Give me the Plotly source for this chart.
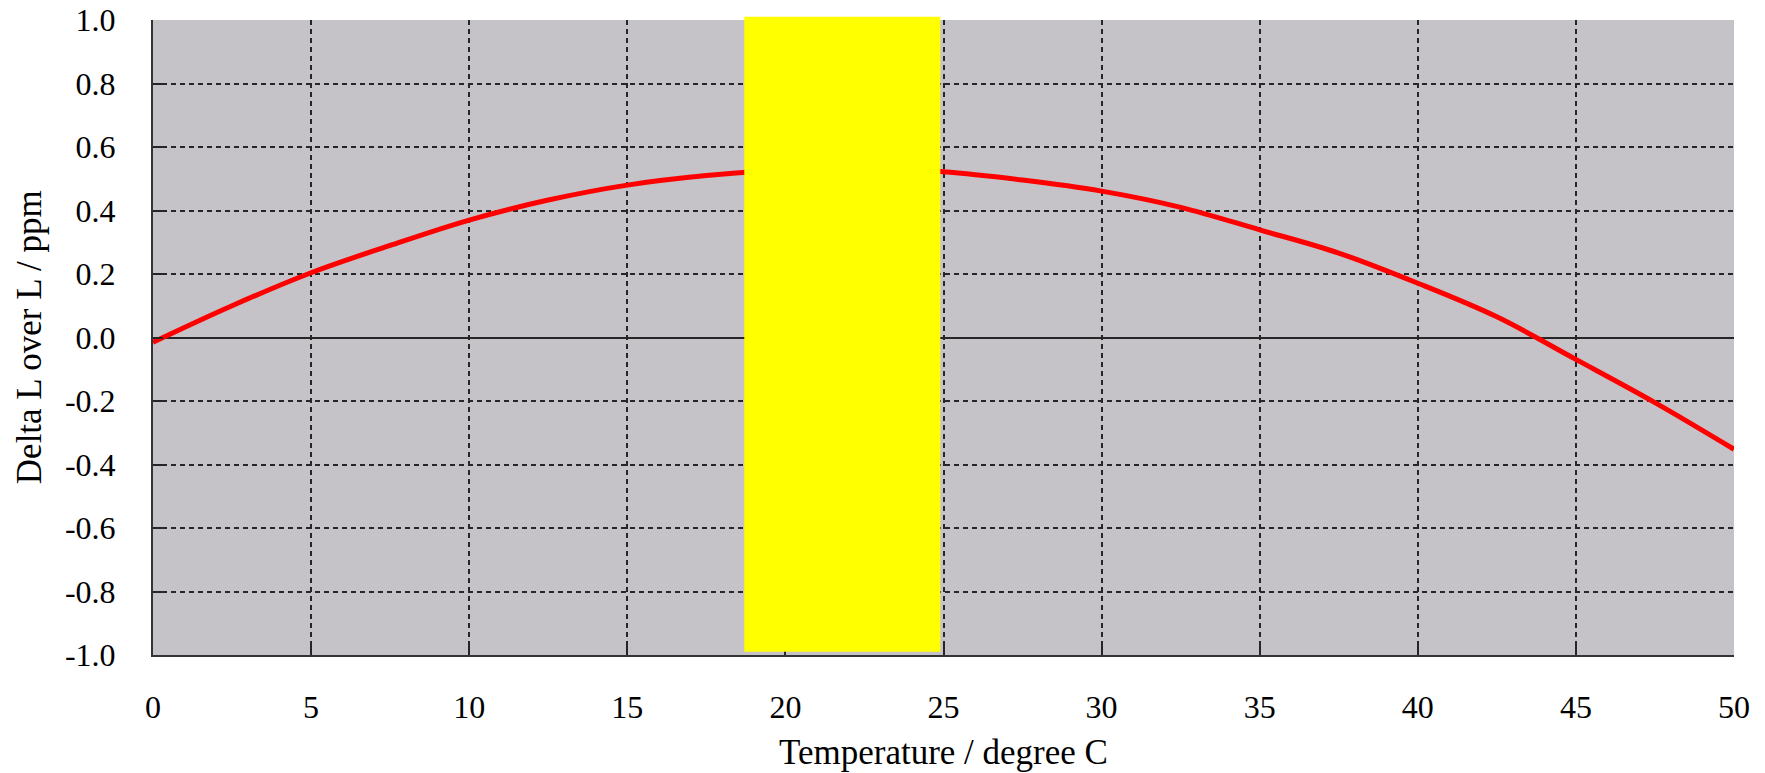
import plotly.graph_objects as go

# Data
temperature_c = [0, 2.5, 5, 7.5, 10, 12.5, 15, 17.5, 20, 22.5, 25, 27.5, 30, 32.5,
                 35, 37.5, 40, 42.5, 45, 47.5, 50]
delta_l_ppm = [-0.015, 0.10, 0.204, 0.29, 0.37, 0.433, 0.48, 0.51, 0.528, 0.532,
               0.522, 0.496, 0.461, 0.41, 0.339, 0.266, 0.171, 0.065, -0.069, -0.205, -0.352]

band_start = 18.7
band_end = 24.9

x_tick_vals = [0, 5, 10, 15, 20, 25, 30, 35, 40, 45, 50]
x_tick_text = ["0", "5", "10", "15", "20", "25", "30", "35", "40", "45", "50"]
y_tick_vals = [-1.0, -0.8, -0.6, -0.4, -0.2, 0.0, 0.2, 0.4, 0.6, 0.8, 1.0]
y_tick_text = ["-1.0", "-0.8", "-0.6", "-0.4", "-0.2", "0.0", "0.2", "0.4", "0.6", "0.8", "1.0"]

x_title = "Temperature / degree C"
y_title = "Delta L over L / ppm"

FONT = "Liberation Serif, Times New Roman, serif"

fig = go.Figure()
fig.add_trace(go.Scatter(
    x=temperature_c, y=delta_l_ppm, mode="lines",
    line=dict(color="#FF0000", width=5, shape="spline"),
    showlegend=False, hoverinfo="skip",
))

fig.add_shape(type="rect", xref="x", yref="paper",
              x0=band_start, x1=band_end, y0=0.005, y1=1.005,
              fillcolor="#FFFF00", line=dict(width=0), layer="above")

grid = dict(showgrid=True, gridcolor="#262626", gridwidth=1.8, griddash="5px,4px")

fig.update_xaxes(
    range=[0, 50], tickvals=x_tick_vals, ticktext=x_tick_text,
    ticks="inside", ticklen=9, tickwidth=1.8, tickcolor="#262626",
    showline=True, linecolor="#333333", linewidth=2,
    zeroline=False, ticklabelstandoff=23, ticklabeloverflow="allow",
    tickfont=dict(family=FONT, size=32, color="#000000"),
    **grid,
)
fig.update_yaxes(
    range=[-1, 1], tickvals=y_tick_vals, ticktext=y_tick_text,
    ticks="inside", ticklen=10, tickwidth=1.8, tickcolor="#262626",
    showline=True, linecolor="#333333", linewidth=2,
    zeroline=True, zerolinecolor="#262626", zerolinewidth=1.6,
    ticklabelstandoff=29, ticklabeloverflow="allow",
    tickfont=dict(family=FONT, size=32, color="#000000"),
    **grid,
)

fig.add_annotation(text=x_title, xref="paper", yref="paper", x=0.5, y=-0.153,
                   xanchor="center", yanchor="middle", showarrow=False,
                   font=dict(family=FONT, size=35, color="#000000"))
fig.add_annotation(text=y_title, xref="paper", yref="paper", x=-0.078, y=0.5,
                   xanchor="center", yanchor="middle", showarrow=False, textangle=-90,
                   font=dict(family=FONT, size=35, color="#000000"))

fig.update_layout(
    width=1765, height=773,
    margin=dict(l=153, r=31, t=20, b=118, autoexpand=False),
    plot_bgcolor="#C5C3C7", paper_bgcolor="#FFFFFF",
    showlegend=False,
)

fig.write_html("out.html", config={"displayModeBar": False},
               post_script="document.body.style.margin='0';document.body.style.overflow='hidden';")
